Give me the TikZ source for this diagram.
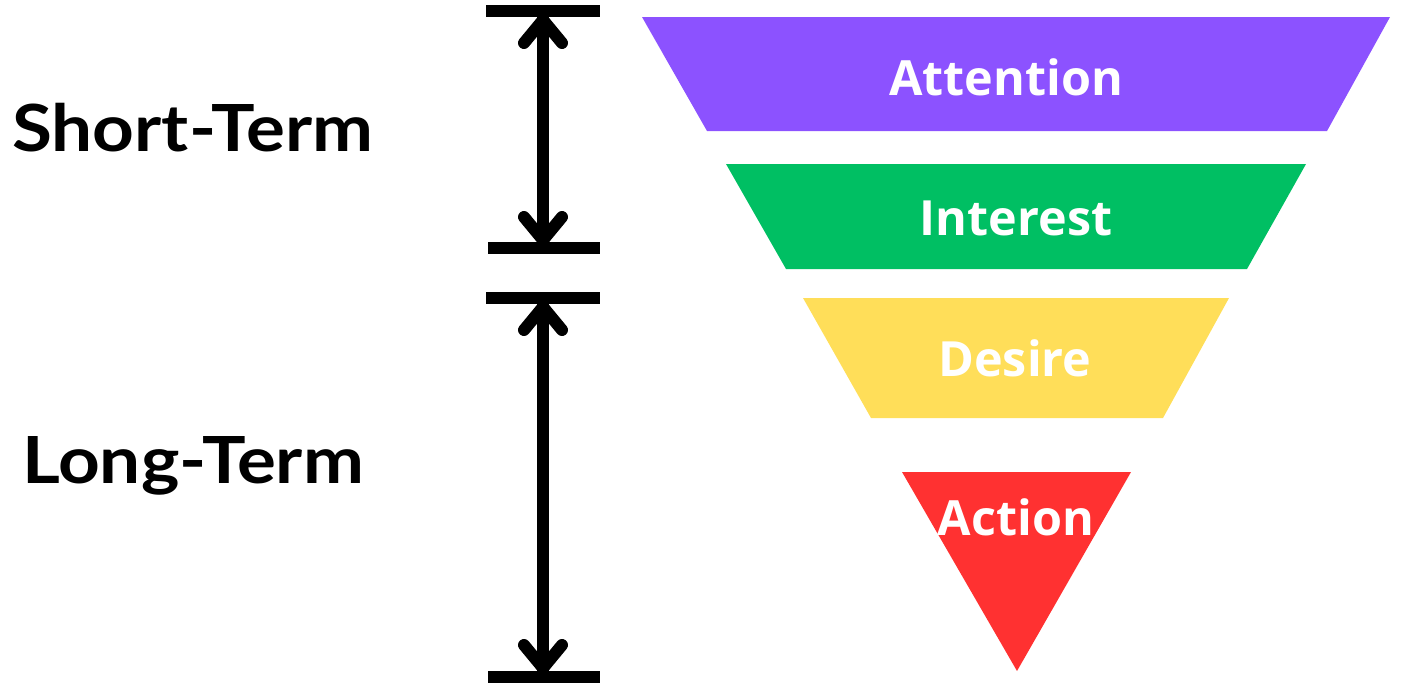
\documentclass[tikz,border=0pt]{standalone}
\usepackage{fontspec}
\setmainfont{Open Sans}
\newfontfamily\labelfont{Lato}
\definecolor{cpurple}{HTML}{8C52FF}
\definecolor{cgreen}{HTML}{00BF63}
\definecolor{cyellow}{HTML}{FFDE59}
\definecolor{cred}{HTML}{FF3131}
\begin{document}
\begin{tikzpicture}[x=1pt,y=-1pt,
  stagetext/.style={text=white,font=\fontsize{48.5}{48.5}\selectfont\bfseries,anchor=base,inner sep=0pt},
  termtext/.style={text=black,font=\labelfont\fontsize{65}{65}\selectfont\bfseries,anchor=base,inner sep=0pt},
  barline/.style={line width=12pt},
  shaft/.style={line width=12pt},
  chevron/.style={line width=12pt,line cap=round,line join=round}]
\useasboundingbox (0,0) rectangle (1410,696);
% funnel
\fill[cpurple] (642,17) -- (1390,17) -- (1327,131) -- (707,131) -- cycle;
\fill[cgreen] (726,164) -- (1306,164) -- (1247,269) -- (786,269) -- cycle;
\fill[cyellow] (803,298) -- (1229,298) -- (1163,418) -- (871,418) -- cycle;
\fill[cred] (902,472) -- (1131,472) -- (1017,671) -- cycle;
\node[stagetext] (att) at (1006,95) {Attention};
\node[stagetext] (int) at (1016,235) {Interest};
\node[stagetext] (des) at (1015,376) {Desire};
\node[stagetext] (act) at (1016,535) {Action};
% labels
\node[termtext] (st) at (193,151) {\scalebox{1.12}[1]{Short-Term}};
\node[termtext] (lt) at (193,483) {\scalebox{1.12}[1]{Long-Term}};
% bars
\coordinate (b1) at (543,11);
\coordinate (b2) at (543,248);
\coordinate (b3) at (543,298);
\coordinate (b4) at (543,677);
\draw[barline] (486,11) -- (600,11);
\draw[barline] (488,248) -- (600,248);
\draw[barline] (486,298) -- (600,298);
\draw[barline] (488,677) -- (600,677);
% shafts
\draw[shaft] (b1) -- (b2);
\draw[shaft] (b3) -- (b4);
% chevrons
\draw[chevron] (524,43) -- (543,20) -- (562,43);
\draw[chevron] (524,217) -- (543,240) -- (562,217);
\draw[chevron] (524,330) -- (543,307) -- (562,330);
\draw[chevron] (524,645) -- (543,668) -- (562,645);
\end{tikzpicture}
\end{document}
